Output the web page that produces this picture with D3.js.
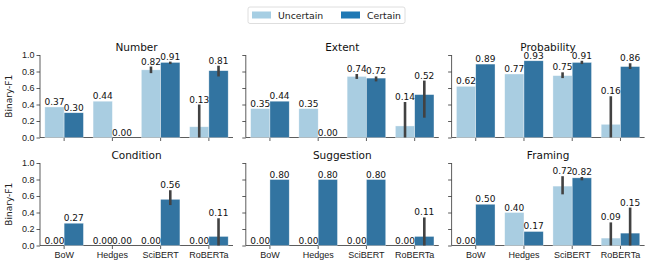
<!DOCTYPE html>
<html>
<head>
<meta charset="utf-8">
<script src="https://cdn.jsdelivr.net/npm/d3@7"></script>
<style>
  body { margin: 0; background: #fff; }
  svg { font-family: 'DejaVu Sans', sans-serif; }
  .axis path, .axis line { stroke: #333; stroke-width: 0.8; }
  .axis text { font-size: 9px; fill: #222; }
</style>
</head>
<body>
<div id="chart"></div>
<script>
// categories and panels
const models = ['BoW', 'Hedges', 'SciBERT', 'RoBERTa'];
const aspects = ['Number', 'Extent', 'Probability', 'Condition', 'Suggestion', 'Framing'];
const hues = ['Uncertain', 'Certain'];
const yTicks = [0, 0.2, 0.4, 0.6, 0.8, 1.0];

// Binary-F1 per aspect (rows follow aspects, columns follow models)
const uncertainF1 = [
  [0.37, 0.44, 0.82, 0.13],
  [0.35, 0.35, 0.74, 0.14],
  [0.62, 0.77, 0.75, 0.16],
  [0.00, 0.00, 0.00, 0.00],
  [0.00, 0.00, 0.00, 0.00],
  [0.00, 0.40, 0.72, 0.09]
];
const certainF1 = [
  [0.30, 0.00, 0.91, 0.81],
  [0.44, 0.00, 0.72, 0.52],
  [0.89, 0.93, 0.91, 0.86],
  [0.27, 0.00, 0.56, 0.11],
  [0.80, 0.80, 0.80, 0.11],
  [0.50, 0.17, 0.82, 0.15]
];
// confidence intervals [low, high], null where none is drawn
const uncertainCI = [
  [null, null, [0.78, 0.86], [0.00, 0.40]],
  [null, null, [0.71, 0.77], [0.00, 0.43]],
  [null, null, [0.72, 0.79], [0.00, 0.50]],
  [null, null, null, null],
  [null, null, null, null],
  [null, null, [0.62, 0.84], [0.00, 0.28]]
];
const certainCI = [
  [null, null, [0.89, 0.92], [0.74, 0.87]],
  [null, null, [0.68, 0.74], [0.24, 0.69]],
  [null, null, [0.89, 0.93], [0.83, 0.90]],
  [null, null, [0.49, 0.67], [0.00, 0.33]],
  [null, null, null, [0.00, 0.34]],
  [null, null, [0.79, 0.83], [0.00, 0.46]]
];

const width = 650, height = 267;
const panelW = 193, panelH = 82.5, colGap = 12.8;
const left = 40, tops = [55, 163];

const barColors = {Uncertain: '#a9cde1', Certain: '#3274a1'};
const legendColors = {Uncertain: '#a6cee3', Certain: '#1f78b4'};

const svg = d3.select('#chart').append('svg')
    .attr('width', width)
    .attr('height', height);

const x = d3.scaleBand()
    .domain(models)
    .range([0, panelW])
    .paddingInner(0.2)
    .paddingOuter(0.1);

const xHue = d3.scaleBand()
    .domain(hues)
    .range([0, x.bandwidth()]);

const y = d3.scaleLinear()
    .domain([0, 1])
    .range([panelH, 0]);

aspects.forEach((aspect, i) => {
  const row = Math.floor(i / 3), col = i % 3;
  const g = svg.append('g')
      .attr('transform', `translate(${left + col * (panelW + colGap)},${tops[row]})`);

  // y axis
  g.append('g')
      .attr('class', 'axis')
      .call(d3.axisLeft(y).tickValues(yTicks).tickSize(3.5).tickPadding(2)
          .tickFormat(col === 0 ? d3.format('.1f') : ''))
      .call(a => a.select('.domain').attr('d', `M0,${panelH}V0`));

  // x axis
  g.append('g')
      .attr('class', 'axis')
      .attr('transform', `translate(0,${panelH})`)
      .call(d3.axisBottom(x).tickSize(3.5).tickPadding(3)
          .tickFormat(row === 1 ? d => d : ''))
      .call(a => a.select('.domain').attr('d', `M0,0H${panelW}`));

  g.append('text')
      .attr('x', panelW / 2)
      .attr('y', -4)
      .attr('text-anchor', 'middle')
      .style('font-size', '10.5px')
      .attr('fill', '#111')
      .text(aspect);

  if (col === 0) {
    g.append('text')
        .attr('transform', `translate(-28,${panelH / 2}) rotate(-90)`)
        .attr('text-anchor', 'middle')
        .style('font-size', '9px')
        .attr('fill', '#222')
        .text('Binary-F1');
  }

  const rows = [];
  models.forEach((m, j) => {
    rows.push({model: m, hue: 'Uncertain', value: uncertainF1[i][j], ci: uncertainCI[i][j]});
    rows.push({model: m, hue: 'Certain', value: certainF1[i][j], ci: certainCI[i][j]});
  });

  const cx = d => x(d.model) + xHue(d.hue) + xHue.bandwidth() / 2;
  // labels sit at the end of the error bar when there is one
  const top = d => d.ci ? Math.max(d.value, d.ci[1]) : d.value;

  g.selectAll('rect.bar')
    .data(rows)
    .enter().append('rect')
      .attr('class', 'bar')
      .attr('x', d => x(d.model) + xHue(d.hue))
      .attr('y', d => y(d.value))
      .attr('width', xHue.bandwidth())
      .attr('height', d => panelH - y(d.value))
      .attr('fill', d => barColors[d.hue])
      .attr('stroke', 'rgba(255,255,255,0.6)')
      .attr('stroke-width', 0.6);

  g.selectAll('line.err')
    .data(rows.filter(d => d.ci))
    .enter().append('line')
      .attr('class', 'err')
      .attr('x1', cx)
      .attr('x2', cx)
      .attr('y1', d => y(d.ci[0]))
      .attr('y2', d => y(d.ci[1]))
      .attr('stroke', '#424242')
      .attr('stroke-width', 2.6);

  g.selectAll('text.val')
    .data(rows)
    .enter().append('text')
      .attr('class', 'val')
      .attr('x', cx)
      .attr('y', d => y(top(d)) - 2)
      .attr('text-anchor', 'middle')
      .style('font-size', '9px')
      .attr('fill', '#111')
      .text(d => d.value.toFixed(2));
});

// Legend
const legend = svg.append('g')
    .attr('transform', 'translate(248,7)');
legend.append('rect')
    .attr('width', 157)
    .attr('height', 16.5)
    .attr('rx', 2)
    .attr('fill', '#fff')
    .attr('stroke', '#d6d6d6')
    .attr('stroke-width', 0.8);
const item = legend.selectAll('g.item')
  .data(hues)
  .enter().append('g')
    .attr('class', 'item')
    .attr('transform', (d, i) => `translate(${4 + i * 89},4.5)`);
item.append('rect')
    .attr('width', 19)
    .attr('height', 7)
    .attr('fill', d => legendColors[d]);
item.append('text')
    .attr('x', 26)
    .attr('y', 7.5)
    .style('font-size', '9.3px')
    .attr('fill', '#222')
    .text(d => d);
</script>
</body>
</html>
